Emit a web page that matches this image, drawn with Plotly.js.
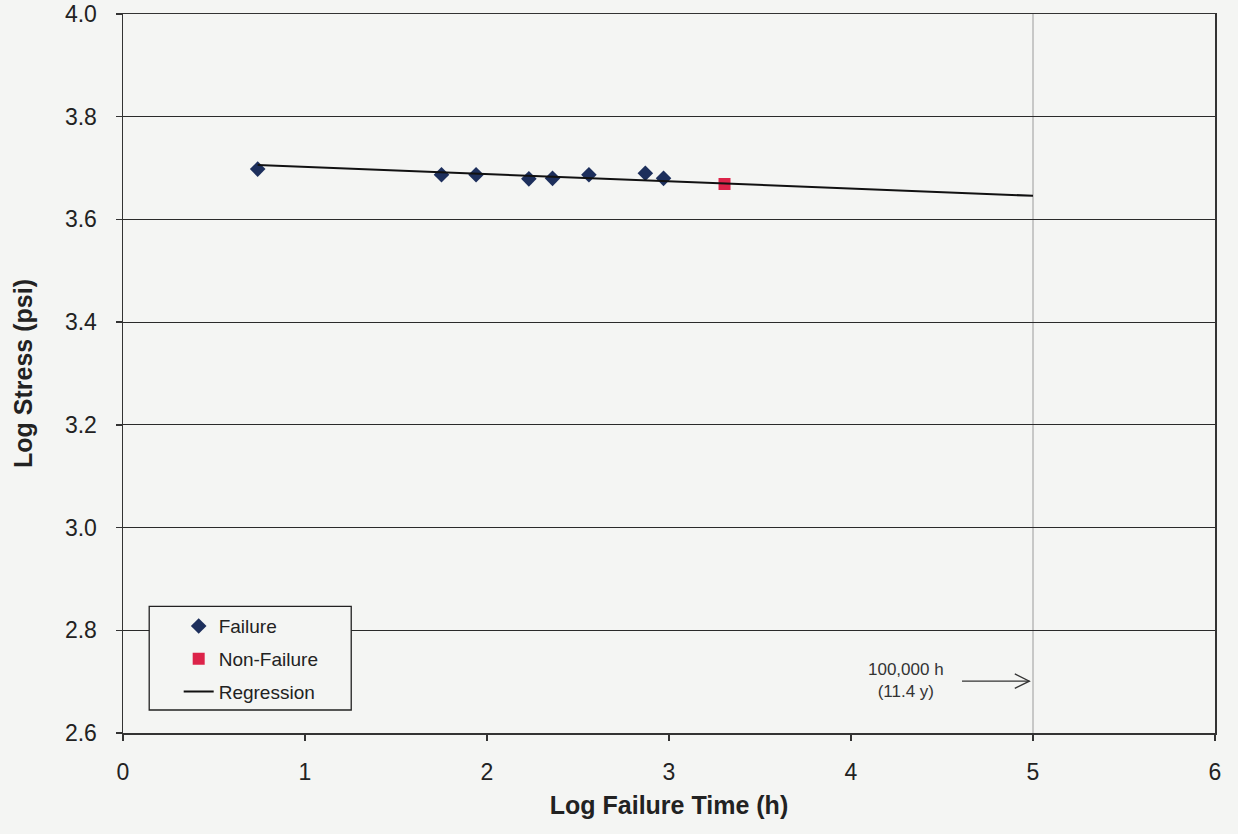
<!DOCTYPE html>
<html>
<head>
<meta charset="utf-8">
<script src="https://cdn.plot.ly/plotly-3.0.1.min.js"></script>
<style>
  html, body { margin: 0; padding: 0; background: #f4f5f3; }
  #chart { width: 1238px; height: 834px; }
</style>
</head>
<body>
<div id="chart"></div>
<script>
// Data
const failureX = [0.74, 1.75, 1.94, 2.23, 2.36, 2.56, 2.87, 2.97];
const failureY = [3.698, 3.687, 3.687, 3.679, 3.680, 3.687, 3.690, 3.680];
const nonFailureX = [3.305];
const nonFailureY = [3.669];
const regressionX = [0.74, 5.0];
const regressionY = [3.706, 3.646];
const xTicks = [0, 1, 2, 3, 4, 5, 6];
const yTicks = [2.6, 2.8, 3.0, 3.2, 3.4, 3.6, 3.8, 4.0];
const markerLineX = 5;
const noteText = "100,000 h<br>(11.4 y)";

const bg = '#f4f5f3';
const fontFam = '"Liberation Sans", Arial, sans-serif';

const traces = [
  {
    x: failureX, y: failureY, type: 'scatter', mode: 'markers', name: 'Failure',
    legendgroup: 'a',
    marker: { symbol: 'diamond', size: 12, color: '#1d2f5c' }
  },
  {
    x: nonFailureX, y: nonFailureY, type: 'scatter', mode: 'markers', name: 'Non-Failure',
    legendgroup: 'b',
    marker: { symbol: 'square', size: 12, color: '#dc2349' }
  },
  {
    x: regressionX, y: regressionY, type: 'scatter', mode: 'lines', name: 'Regression',
    legendgroup: 'c',
    line: { color: '#111111', width: 2 }
  }
];

const layout = {
  width: 1238, height: 834,
  paper_bgcolor: bg, plot_bgcolor: bg,
  margin: { l: 123, r: 23, t: 14, b: 101 },
  font: { family: fontFam, color: '#222' },
  showlegend: true,
  legend: {
    x: 0.051, y: 0.175, xanchor: 'left', yanchor: 'top',
    bgcolor: 'rgba(0,0,0,0)', borderwidth: 0,
    font: { size: 19, family: fontFam, color: '#222' },
    traceorder: 'grouped', tracegroupgap: 5
  },
  xaxis: {
    range: [0, 6], tickvals: xTicks, ticktext: xTicks.map(String),
    showgrid: false, zeroline: false,
    showline: true, linecolor: '#333', linewidth: 1.5, mirror: true,
    ticks: 'outside', ticklen: 6, tickcolor: '#333', tickwidth: 1.5,
    tickfont: { size: 23, family: fontFam, color: '#222' },
    ticklabelstandoff: 12,
    title: { text: 'Log Failure Time (h)', font: { size: 25, family: fontFam, color: '#222', weight: 'bold' }, standoff: 12 }
  },
  yaxis: {
    range: [2.6, 4.0], tickvals: yTicks, ticktext: yTicks.map(v => v.toFixed(1)),
    showgrid: true, gridcolor: '#2a2a2a', gridwidth: 1, zeroline: false,
    showline: true, linecolor: '#333', linewidth: 1.5, mirror: true,
    ticks: 'outside', ticklen: 6, tickcolor: '#333', tickwidth: 1.5,
    tickfont: { size: 23, family: fontFam, color: '#222' },
    ticklabelstandoff: 14,
    title: { text: 'Log Stress (psi)', font: { size: 25, family: fontFam, color: '#222', weight: 'bold' }, standoff: 25 }
  },
  shapes: [
    { type: 'line', xref: 'x', yref: 'paper', x0: markerLineX, x1: markerLineX, y0: 0, y1: 1,
      line: { color: '#9a9a9a', width: 1 }, layer: 'below' },
    { type: 'rect', xref: 'paper', yref: 'paper', x0: 0.024, x1: 0.209, y0: 0.032, y1: 0.176,
      fillcolor: bg, line: { color: '#222', width: 1.3 }, layer: 'above' },
    { type: 'line', xref: 'x', yref: 'y', x0: 4.61, x1: 4.98, y0: 2.701, y1: 2.701,
      line: { color: '#333', width: 1.3 } },
    { type: 'path', xref: 'x', yref: 'y', path: 'M 4.90 2.715 L 4.98 2.701 L 4.90 2.687',
      line: { color: '#333', width: 1.3 } }
  ],
  annotations: [
    { x: 4.30, y: 2.703, xref: 'x', yref: 'y', text: noteText, showarrow: false,
      font: { size: 17, family: fontFam, color: '#333' }, align: 'center' }
  ]
};

Plotly.newPlot('chart', traces, layout, { displayModeBar: false, staticPlot: true });
</script>
</body>
</html>
